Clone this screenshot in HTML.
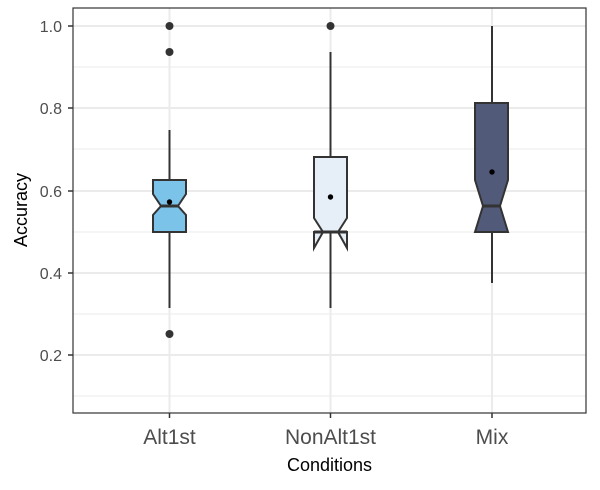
<!DOCTYPE html>
<html><head><meta charset="utf-8"><style>
html,body{margin:0;padding:0;background:#fff}
text{font-family:"Liberation Sans",Arial,sans-serif}
</style></head><body>
<svg width="600" height="485" viewBox="0 0 600 485" xmlns="http://www.w3.org/2000/svg">
<g stroke="#ebebeb" stroke-width="1">
<line x1="73" x2="586" y1="396" y2="396"/><line x1="73" x2="586" y1="314" y2="314"/>
<line x1="73" x2="586" y1="232" y2="232"/><line x1="73" x2="586" y1="149" y2="149"/>
<line x1="73" x2="586" y1="67" y2="67"/>
</g>
<g stroke="#ebebeb" stroke-width="2">
<line x1="73" x2="586" y1="355" y2="355"/><line x1="73" x2="586" y1="273" y2="273"/>
<line x1="73" x2="586" y1="191" y2="191"/><line x1="73" x2="586" y1="108" y2="108"/>
<line x1="73" x2="586" y1="26" y2="26"/>
<line x1="169.5" x2="169.5" y1="8" y2="413"/><line x1="330.5" x2="330.5" y1="8" y2="413"/><line x1="492" x2="492" y1="8" y2="413"/>
</g>
<g stroke="#333" stroke-width="2">
<line x1="169.5" x2="169.5" y1="130" y2="180"/><line x1="169.5" x2="169.5" y1="232" y2="308"/>
<line x1="330.5" x2="330.5" y1="52" y2="157"/><line x1="330.5" x2="330.5" y1="232" y2="308"/>
<line x1="492" x2="492" y1="26" y2="103"/><line x1="492" x2="492" y1="232" y2="283"/>
</g>
<g stroke="#333" stroke-width="2" stroke-linejoin="miter">
<polygon fill="#7cc3ea" points="153,180 186,180 186,194 178,206 186,215 186,232 153,232 153,215 161,206 153,194"/>
<line x1="161" x2="178" y1="206" y2="206" stroke-width="3"/>
<polygon fill="#e6eff7" points="314,157 347,157 347,218 338,232 347,248 347,232 314,232 314,248 323,232 314,218"/>
<line x1="314" x2="347" y1="232" y2="232" stroke-width="3"/>
<polygon fill="#525a7a" points="475,103 508,103 508,180 500,206 508,232 475,232 483,206 475,180"/>
<line x1="483" x2="500" y1="206" y2="206" stroke-width="3"/>
</g>
<g fill="#333">
<circle cx="169.5" cy="26" r="4"/><circle cx="169.5" cy="52" r="4"/><circle cx="169.5" cy="334" r="4"/>
<circle cx="330.5" cy="26" r="4"/>
</g>
<g fill="#000">
<circle cx="169.5" cy="202" r="2.7"/><circle cx="330.5" cy="197" r="2.7"/><circle cx="492" cy="172" r="2.7"/>
</g>
<rect x="73" y="8" width="513" height="405" fill="none" stroke="#333" stroke-width="1.2"/>
<g stroke="#333" stroke-width="1.5">
<line x1="68" x2="73" y1="355" y2="355"/><line x1="68" x2="73" y1="273" y2="273"/>
<line x1="68" x2="73" y1="191" y2="191"/><line x1="68" x2="73" y1="108" y2="108"/><line x1="68" x2="73" y1="26" y2="26"/>
<line x1="169.5" x2="169.5" y1="413" y2="418"/><line x1="330.5" x2="330.5" y1="413" y2="418"/><line x1="492" x2="492" y1="413" y2="418"/>
</g>
<g fill="#4d4d4d" font-size="16" text-anchor="end">
<text x="62" y="361">0.2</text><text x="62" y="279">0.4</text><text x="62" y="197">0.6</text>
<text x="62" y="114">0.8</text><text x="62" y="32">1.0</text>
</g>
<g fill="#4d4d4d" font-size="21" text-anchor="middle">
<text x="169.5" y="444">Alt1st</text><text x="330.5" y="444">NonAlt1st</text><text x="492" y="444">Mix</text>
</g>
<text x="329.5" y="471" font-size="18" text-anchor="middle" fill="#000">Conditions</text>
<text x="0" y="0" font-size="18" text-anchor="middle" fill="#000" transform="translate(27,210) rotate(-90)">Accuracy</text>
</svg>
</body></html>
